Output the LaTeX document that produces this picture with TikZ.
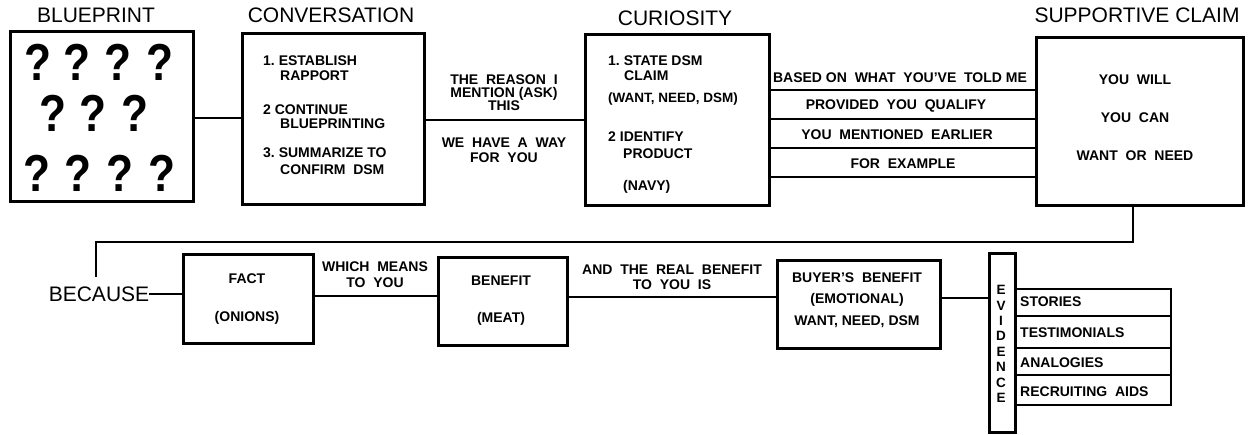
\documentclass[tikz,border=0pt]{standalone}
\usepackage{fontspec}
\setmainfont{Liberation Sans}
\begin{document}
\begin{tikzpicture}[x=1pt,y=-1pt,
  box/.style={draw,line width=2.6pt,rectangle,anchor=north west,inner sep=0pt},
  wire/.style={line width=2.6pt},
  thin wire/.style={line width=2.2pt},
  title/.style={font=\fontsize{21}{25}\selectfont},
  body/.style={font=\bfseries\fontsize{14}{15}\selectfont,inner sep=0pt},
  qm/.style={font=\bfseries\fontsize{52}{52}\selectfont,inner sep=0pt}
]
\useasboundingbox (0,0) rectangle (1252,434);

% ---------- top row: boxes ----------
\node[box,minimum width=183pt,minimum height=170pt] (bp)   at (9,30) {};
\node[box,minimum width=182pt,minimum height=171pt] (conv) at (241,32) {};
\node[box,minimum width=184pt,minimum height=171pt] (cur)  at (584,33) {};
\node[box,minimum width=207pt,minimum height=168pt] (sup)  at (1035,36) {};

% titles
\node[title] (tbp)   at (96,15)   {BLUEPRINT};
\node[title] (tconv) at (331,15)  {CONVERSATION};
\node[title] (tcur)  at (675,18)  {CURIOSITY};
\node[title] (tsup)  at (1137,15) {SUPPORTIVE CLAIM};

% question marks
\foreach \x/\y [count=\i] in {38/62,77/62,118/62,160/62,53/113,93/113,135/113,37/173,78/173,120/173,162/173}
  \node[qm] (q\i) at (\x,\y) {\scalebox{0.85}[1]{?}};

% conversation steps
\node[body,anchor=west,align=left] (c1) at (263,68.5) {1.\ ESTABLISH\\\hspace*{17pt}RAPPORT};
\node[body,anchor=west,align=left,font=\bfseries\fontsize{14}{13.5}\selectfont] (c2) at (263,116.5) {2\ CONTINUE\\\hspace*{17pt}BLUEPRINTING};
\node[body,anchor=west,align=left,font=\bfseries\fontsize{14}{17}\selectfont] (c3) at (263,161.5) {3.\ SUMMARIZE TO\\\hspace*{17pt}CONFIRM\ \ DSM};

% curiosity steps
\node[body,anchor=west,align=left] (k1) at (608,68.5) {1.\ STATE\ DSM\\\hspace*{16pt}CLAIM};
\node[body,anchor=west,font=\bfseries\fontsize{13.5}{15}\selectfont] (k2) at (608,99) {(WANT, NEED, DSM)};
\node[body,anchor=west,align=left,font=\bfseries\fontsize{14}{17}\selectfont] (k3) at (608,145.5) {2\ IDENTIFY\\\hspace*{15pt}PRODUCT};
\node[body,anchor=west] (k4) at (623,187) {(NAVY)};

% supportive claim
\node[body,align=center,font=\bfseries\fontsize{14}{38}\selectfont] (s1) at (1135,118) {YOU\ \ WILL\\YOU\ \ CAN\\WANT\ \ OR\ \ NEED};

% ---------- top row: connectors ----------
\draw[wire] (bp.east |- 0,118) -- (conv.west |- 0,118);
\draw[wire] (conv.east |- 0,120) -- (cur.west |- 0,120);
\node[body,align=center,font=\bfseries\fontsize{14}{13}\selectfont] (l1) at (504,93) {THE\ \ REASON\ \ I\\MENTION (ASK)\\THIS};
\node[body,align=center,font=\bfseries\fontsize{14}{15}\selectfont] (l2) at (504,150) {WE\ \ HAVE\ \ A\ \ WAY\\FOR\ \ YOU};

\foreach \y in {90,119,148,177}
  \draw[wire] (cur.east |- 0,\y) -- (sup.west |- 0,\y);
\node[body] (p1) at (900,78)  {BASED\ ON\ \ WHAT\ \ YOU'VE\ \ TOLD ME};
\node[body] (p2) at (896,106) {PROVIDED\ \ YOU\ \ QUALIFY};
\node[body] (p3) at (897,135) {YOU\ \ MENTIONED\ \ EARLIER};
\node[body] (p4) at (903,164) {FOR\ \ EXAMPLE};

% ---------- return path to second row ----------
\coordinate (r1) at (1133,242);
\coordinate (r2) at (96,242);
\coordinate (r3) at (96,277);
\draw[wire] (sup.south -| r1) -- (r1) -- (r2) -- (r3);

% ---------- bottom row ----------
\node[font=\fontsize{21}{25}\selectfont,inner sep=0pt] (bec) at (99,294) {BECAUSE};
\node[box,minimum width=130pt,minimum height=89pt] (fact) at (182,253) {};
\node[box,minimum width=129pt,minimum height=88pt] (ben)  at (437,256) {};
\node[box,minimum width=163pt,minimum height=88pt] (buy)  at (776,259) {};
\node[box,minimum width=26pt,minimum height=179pt] (evi)  at (988,252) {};

\node[body,align=center,font=\bfseries\fontsize{14}{38}\selectfont] (ft) at (247,299) {FACT\\(ONIONS)};
\node[body,align=center,font=\bfseries\fontsize{14}{37}\selectfont] (bt) at (501,300.5) {BENEFIT\\(MEAT)};
\node[body,align=center,font=\bfseries\fontsize{14}{21.5}\selectfont] (yt) at (857,300) {BUYER'S\ \ BENEFIT\\(EMOTIONAL)\\WANT, NEED, DSM};
\node[body,align=center,font=\bfseries\fontsize{13.5}{15.4}\selectfont] (et) at (1001,344) {E\\V\\I\\D\\E\\N\\C\\E};

\draw[thin wire] (bec.east) -- (bec.east -| fact.west);
\draw[wire] (fact.east |- 0,296) -- (ben.west |- 0,296);
\draw[wire] (ben.east |- 0,297) -- (buy.west |- 0,297);
\draw[wire] (buy.east |- 0,298) -- (evi.west |- 0,298);

\node[body,align=center,font=\bfseries\fontsize{14}{16}\selectfont] (w1) at (375,275) {WHICH\ \ MEANS\\TO\ \ YOU};
\node[body,align=center,font=\bfseries\fontsize{14}{15}\selectfont] (w2) at (672,277) {AND\ \ THE\ \ REAL\ \ BENEFIT\\TO\ \ YOU\ \ IS};

% evidence list
\node[box,line width=2.2pt,minimum width=156pt,minimum height=27pt] (e1) at (1014,288) {};
\node[box,line width=2.2pt,minimum width=156pt,minimum height=32pt] (e2) at (1014,315) {};
\node[box,line width=2.2pt,minimum width=156pt,minimum height=27pt] (e3) at (1014,347) {};
\node[box,line width=2.2pt,minimum width=156pt,minimum height=30pt] (e4) at (1014,374) {};
\node[body,anchor=west] (et1) at (1020,302) {STORIES};
\node[body,anchor=west] (et2) at (1020,333) {TESTIMONIALS};
\node[body,anchor=west] (et3) at (1020,363) {ANALOGIES};
\node[body,anchor=west] (et4) at (1020,392) {RECRUITING\ \ AIDS};
\end{tikzpicture}
\end{document}
